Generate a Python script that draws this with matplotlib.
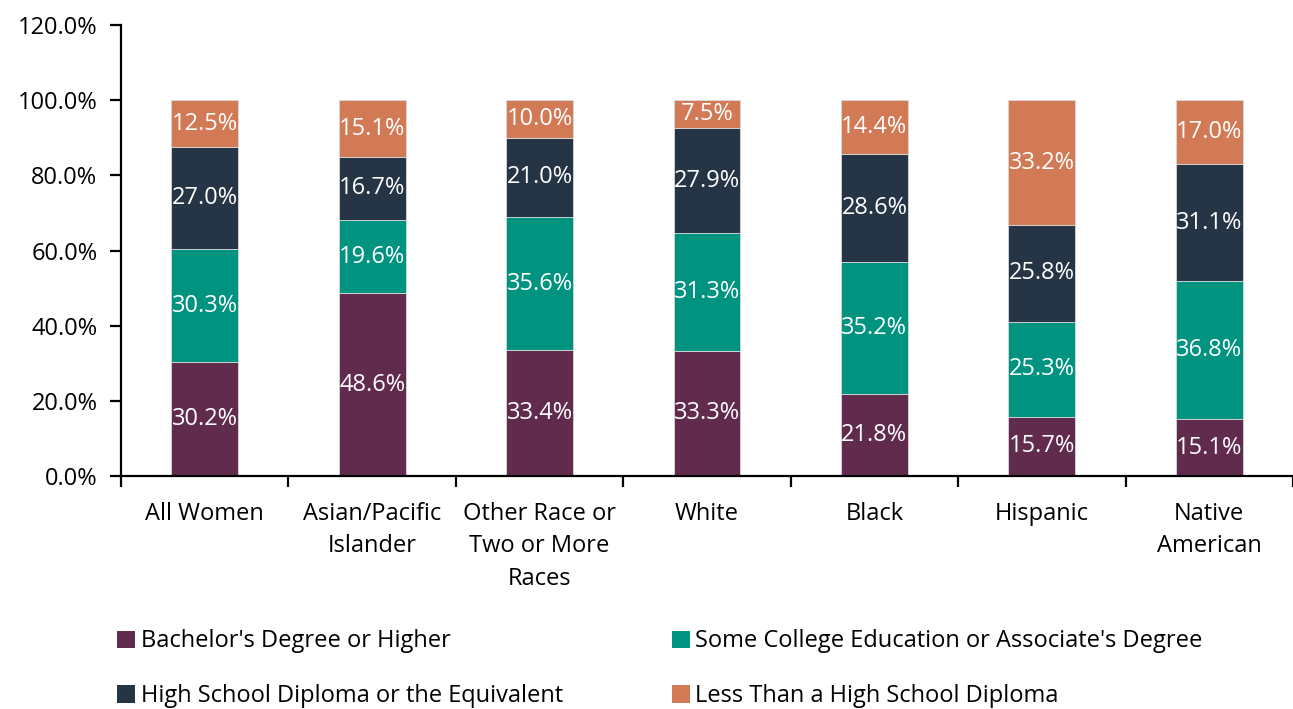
import matplotlib
matplotlib.use("Agg")
import matplotlib.pyplot as plt
import numpy as np
from matplotlib.patches import Patch

plt.rcParams['font.family'] = ['Open Sans', 'DejaVu Sans']

categories = ["All Women", "Asian/Pacific\nIslander", "Other Race or\nTwo or More\nRaces",
              "White", "Black", "Hispanic", "Native\nAmerican"]
bachelors = [30.2, 48.6, 33.4, 33.3, 21.8, 15.7, 15.1]
some_college = [30.3, 19.6, 35.6, 31.3, 35.2, 25.3, 36.8]
high_school = [27.0, 16.7, 21.0, 27.9, 28.6, 25.8, 31.1]
less_than_hs = [12.5, 15.1, 10.0, 7.5, 14.4, 33.2, 17.0]

series_names = ["Bachelor's Degree or Higher",
                "Some College Education or Associate's Degree",
                "High School Diploma or the Equivalent",
                "Less Than a High School Diploma"]
series_values = [bachelors, some_college, high_school, less_than_hs]
colors = ["#612B4E", "#00937F", "#263545", "#D27955"]

FS = 17

W, H = 1293, 709
fig = plt.figure(figsize=(W / 100, H / 100), dpi=100)
ax = fig.add_axes([121 / W, 1 - 476 / H, (W - 121) / W, (476 - 25) / H])

x = np.arange(len(categories))
bottom = np.zeros(len(categories))
for name, vals, col in zip(series_names, series_values, colors):
    vals = np.array(vals)
    ax.bar(x, vals, width=0.4, bottom=bottom, color=col, edgecolor="#d9d9d9",
           linewidth=0.6, label=name, zorder=2)
    for xi, b, v in zip(x, bottom, vals):
        ax.text(xi, b + v / 2, f"{v:.1f}%", ha="center", va="center",
                color="white", fontsize=FS, zorder=3)
    bottom += vals

ax.set_ylim(0, 120)
ax.set_xlim(-0.5, 6.5 - 11 / 169)
ax.set_yticks(np.arange(0, 121, 20))
ax.set_yticklabels([f"{v:.1f}%" for v in np.arange(0, 121, 20)], fontsize=FS)
ax.set_xticks(x)
ax.set_xticklabels(categories, fontsize=FS, linespacing=1.45)
ax.set_xticks(np.arange(-0.5, 7, 1), minor=True)
ax.tick_params(axis="x", which="major", length=0, pad=19)
ax.tick_params(axis="x", which="minor", length=8, width=1.6, direction="out")
ax.tick_params(axis="y", length=8, width=1.6, direction="out", pad=9)

for s in ["top", "right"]:
    ax.spines[s].set_visible(False)
for s in ["left", "bottom"]:
    ax.spines[s].set_linewidth(1.6)
    ax.spines[s].set_color("black")

# two columns, filled row by row
order = [0, 2, 1, 3]
handles = [Patch(facecolor=colors[i], edgecolor="none") for i in order]
labels = [series_names[i] for i in order]
fig.legend(handles, labels, loc="upper left", bbox_to_anchor=(108 / W, 1 - 620 / H),
           ncol=2, frameon=False, fontsize=FS, handlelength=0.75, handleheight=0.75,
           handletextpad=0.25, columnspacing=4.6, labelspacing=1.3, borderaxespad=0)

fig.savefig("out.png", dpi=100)
